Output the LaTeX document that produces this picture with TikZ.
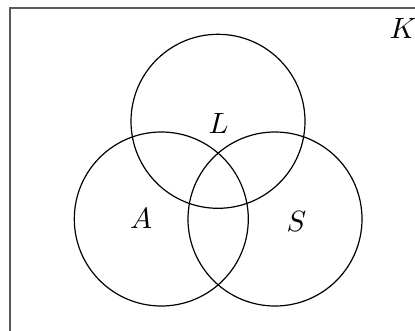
\documentclass[tikz,border=0pt]{standalone}
\usepackage{graphicx}
\newcommand{\biglbl}[1]{\scalebox{2.93}{$#1$}}
\begin{document}
\begin{tikzpicture}[x=1pt,y=-1pt,
  setcirc/.style={circle,draw,line width=1.2pt,minimum size=174pt,inner sep=0pt},
  lbl/.style={inner sep=0pt}]
\useasboundingbox (0,0) rectangle (415,330);
\clip (0,0) rectangle (415,330);
\draw[line width=1.4pt,black!65] (10,8) rectangle (440,350);
\node[setcirc] (cL) at (218,121.3) {};
\node[setcirc] (cA) at (161.3,219) {};
\node[setcirc] (cS) at (275,219) {};
\node[lbl] (tL) at (218.5,123.3) {\biglbl{L}};
\node[lbl] (tA) at (141,218.6) {\biglbl{A}};
\node[lbl] (tS) at (296.5,221) {\biglbl{S}};
\node[lbl] (tK) at (403,28.7) {\biglbl{K}};
\end{tikzpicture}
\end{document}
